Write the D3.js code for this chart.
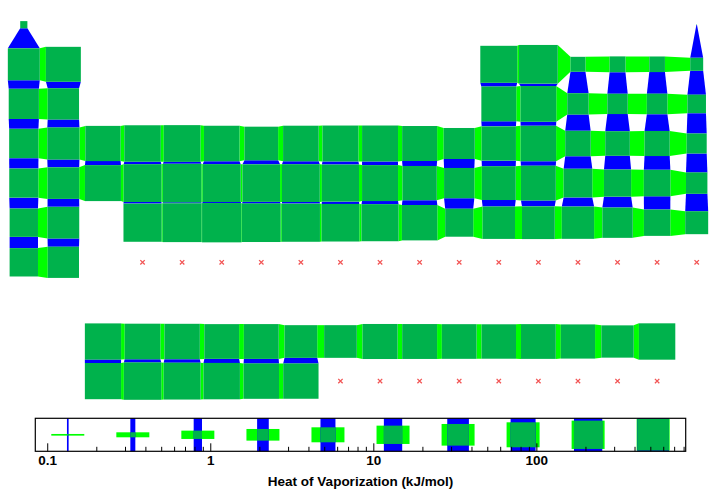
<!DOCTYPE html>
<html>
<head>
    <meta charset="UTF-8">
    <title>Heat of Vaporization</title>
    <script src="https://d3js.org/d3.v7.min.js"></script>
    <style>
        body { margin: 0; background: #fff; }
        .axis-label { font: bold 13.5px "Liberation Sans", Arial, sans-serif; }
    </style>
</head>
<body>
    <div id="chart"></div>

    <script>
        // element symbols in atomic-number order
        const symbols = ["H","He","Li","Be","B","C","N","O","F","Ne","Na","Mg","Al","Si","P","S","Cl","Ar",
            "K","Ca","Sc","Ti","V","Cr","Mn","Fe","Co","Ni","Cu","Zn","Ga","Ge","As","Se","Br","Kr",
            "Rb","Sr","Y","Zr","Nb","Mo","Tc","Ru","Rh","Pd","Ag","Cd","In","Sn","Sb","Te","I","Xe",
            "Cs","Ba","La","Ce","Pr","Nd","Pm","Sm","Eu","Gd","Tb","Dy","Ho","Er","Tm","Yb","Lu",
            "Hf","Ta","W","Re","Os","Ir","Pt","Au","Hg","Tl","Pb","Bi","Po","At","Rn",
            "Fr","Ra","Ac","Th","Pa","U","Np","Pu","Am","Cm","Bk","Cf","Es","Fm","Md","No","Lr",
            "Rf","Db","Sg","Bh","Hs","Mt","Ds","Rg","Cn","Nh","Fl","Mc","Lv","Ts","Og"];

        // heat of vaporization, kJ/mol (null = no data)
        const heatVap = [0.452, 0.0845, 148, 297, 480, 715, 2.79, 3.41, 3.27, 1.75,
            97.42, 128, 294, 359, 12.4, 9.8, 10.2, 6.43,
            79.1, 155, 318, 425, 453, 339.5, 220, 347, 375, 378, 300, 119, 256, 334, 32.4, 26.3, 29.96, 9.08,
            75.77, 137, 380, 580, 690, 600, 550, 580, 495, 380, 255, 100, 230, 290, 68, 48, 41.57, 12.57,
            63.9, 140, 400, 350, 330, 285, 290, 175, 175, 305, 295, 280, 265, 285, 250, 160, 415,
            630, 735, 824, 705, 630, 560, 490, 330, 59.2, 165, 178, 160, 100.8, 40, 18.1,
            64, 125, 400, 530, 470, 420, 335, 325, null, null, null, null, null, null, null, null, null,
            null, null, null, null, null, null, null, null, null, null, null, null, null, null, null];

        // legend sample values and axis ticks
        const legendValues = [0.1337, 0.335, 0.839, 2.104, 5.27, 13.21, 33.1, 82.9, 207.7, 520.4];
        const majorTicks = [0.1, 1, 10, 100];
        const minorTicks = [0.2, 0.3, 0.4, 0.5, 0.6, 0.7, 0.8, 0.9, 2, 3, 4, 5, 6, 7, 8, 9,
            20, 30, 40, 50, 60, 70, 80, 90, 200, 300, 400, 500, 600, 700, 800];

        const valueRange = [0.0845, 824];

        // row / column in the table layout (lanthanides row 9, actinides row 10)
        function place(z) {
            if (z === 1) return [1, 1];
            if (z === 2) return [1, 18];
            if (z <= 4) return [2, z - 2];
            if (z <= 10) return [2, z + 8];
            if (z <= 12) return [3, z - 10];
            if (z <= 18) return [3, z];
            if (z <= 36) return [4, z - 18];
            if (z <= 54) return [5, z - 36];
            if (z <= 56) return [6, z - 54];
            if (z <= 71) return [9, z - 54];
            if (z <= 86) return [6, z - 68];
            if (z <= 88) return [7, z - 86];
            if (z <= 103) return [10, z - 86];
            return [7, z - 100];
        }

        const cells = symbols.map((s, i) => {
            const [row, col] = place(i + 1);
            return { sym: s, v: heatVap[i], row: row, col: col };
        });
        const lookup = new Map(cells.map(d => [d.row + "-" + d.col, d]));

        const width = 720, height = 494;
        const svg = d3.select("#chart").append("svg")
            .attr("width", width)
            .attr("height", height);

        const x = d3.scaleLinear().domain([1, 18]).range([23.8, 696.7]);
        const y = d3.scaleLinear().domain([1, 10]).range([24.7, 381.1]);
        const size = d3.scaleLog().domain(valueRange).range([0, 39.3]).clamp(true);
        const sz = v => Math.max(size(v), 0.6);

        const withData = cells.filter(d => d.v != null);

        // horizontal links (lime) and vertical links (blue)
        const hLinks = [], vLinks = [];
        withData.forEach(d => {
            const r = lookup.get(d.row + "-" + (d.col + 1));
            if (r && r.v != null) hLinks.push([d, r]);
            const b = lookup.get((d.row + 1) + "-" + d.col);
            if (b && b.v != null) vLinks.push([d, b]);
        });

        svg.append("g")
            .selectAll("polygon")
            .data(hLinks)
            .enter().append("polygon")
            .attr("fill", "#00ff00")
            .attr("points", ([a, b]) => {
                const sa = sz(a.v) / 2, sb = sz(b.v) / 2, cy = y(a.row);
                const xa = x(a.col) + sa, xb = x(b.col) - sb;
                return [[xa, cy - sa], [xb, cy - sb], [xb, cy + sb], [xa, cy + sa]].join(" ");
            });

        svg.append("g")
            .selectAll("polygon")
            .data(vLinks)
            .enter().append("polygon")
            .attr("fill", "#0000ff")
            .attr("points", ([a, b]) => {
                const sa = sz(a.v) / 2, sb = sz(b.v) / 2, cx = x(a.col);
                const ya = y(a.row) + sa, yb = y(b.row) - sb;
                return [[cx - sa, ya], [cx + sa, ya], [cx + sb, yb], [cx - sb, yb]].join(" ");
            });

        // element squares
        svg.append("g")
            .selectAll("rect")
            .data(withData)
            .enter().append("rect")
            .attr("fill", "#00b24c")
            .attr("x", d => x(d.col) - sz(d.v) / 2)
            .attr("y", d => y(d.row) - sz(d.v) / 2)
            .attr("width", d => sz(d.v))
            .attr("height", d => sz(d.v));

        // missing data markers
        svg.append("g")
            .selectAll("path")
            .data(cells.filter(d => d.v == null))
            .enter().append("path")
            .attr("transform", d => `translate(${x(d.col)},${y(d.row)})`)
            .attr("d", "M-2.2,-2.2L2.2,2.2M-2.2,2.2L2.2,-2.2")
            .attr("stroke", "#f25454")
            .attr("stroke-width", 1.3);

        // legend
        const box = { left: 35.3, right: 685.7, top: 418.3, bottom: 451.3 };
        const legCell = 33;
        const lx = d3.scaleLog().domain(valueRange).range([box.left, box.right]);
        const lsize = d3.scaleLog().domain(valueRange).range([0, 33.3]);
        const lcy = (box.top + box.bottom) / 2;

        const leg = svg.append("g");
        leg.selectAll(".lg")
            .data(legendValues)
            .enter().append("rect")
            .attr("fill", "#00ff00")
            .attr("x", d => lx(d) - legCell / 2)
            .attr("y", d => lcy - lsize(d) / 2)
            .attr("width", legCell)
            .attr("height", d => lsize(d));
        leg.selectAll(".lb")
            .data(legendValues)
            .enter().append("rect")
            .attr("fill", "#0000ff")
            .attr("x", d => lx(d) - lsize(d) / 2)
            .attr("y", box.top)
            .attr("width", d => lsize(d))
            .attr("height", box.bottom - box.top);
        leg.selectAll(".ls")
            .data(legendValues)
            .enter().append("rect")
            .attr("fill", "#00b24c")
            .attr("x", d => lx(d) - lsize(d) / 2)
            .attr("y", d => lcy - lsize(d) / 2)
            .attr("width", d => lsize(d))
            .attr("height", d => lsize(d));

        const minorAxis = svg.append("g")
            .attr("transform", `translate(0,${box.bottom})`)
            .call(d3.axisBottom(lx).tickValues(minorTicks).tickSizeInner(-4.5).tickSizeOuter(0).tickFormat(""));
        minorAxis.select(".domain").remove();

        const majorAxis = svg.append("g")
            .attr("transform", `translate(0,${box.bottom})`)
            .call(d3.axisBottom(lx).tickValues(majorTicks).tickSizeInner(-8).tickSizeOuter(0)
                .tickPadding(4.5).tickFormat(d => String(d)));
        majorAxis.select(".domain").remove();
        majorAxis.selectAll("text")
            .attr("class", "axis-label")
            .attr("fill", "#000");

        svg.append("rect")
            .attr("x", box.left)
            .attr("y", box.top)
            .attr("width", box.right - box.left)
            .attr("height", box.bottom - box.top)
            .attr("fill", "none")
            .attr("stroke", "#000")
            .attr("stroke-width", 1.2);

        svg.append("text")
            .attr("class", "axis-label")
            .attr("x", (box.left + box.right) / 2)
            .attr("y", 486)
            .attr("text-anchor", "middle")
            .text("Heat of Vaporization (kJ/mol)");
    </script>
</body>
</html>
